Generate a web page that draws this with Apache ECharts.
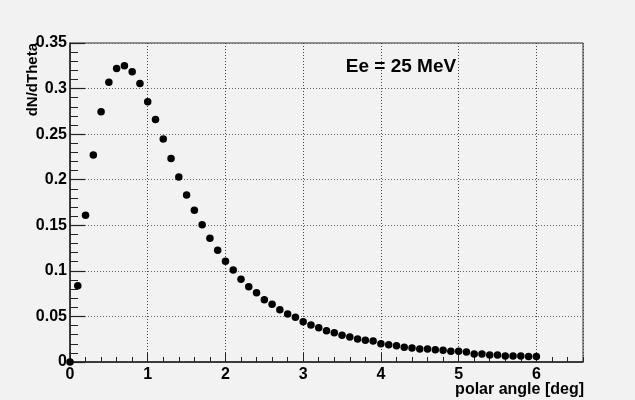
<!DOCTYPE html>
<html>
<head>
<meta charset="utf-8">
<script src="https://cdn.jsdelivr.net/npm/echarts@6/dist/echarts.min.js"></script>
<style>
html,body{margin:0;padding:0;background:#f2f2f2;}
#chart{width:635px;height:400px;}
</style>
</head>
<body>
<div id="chart"></div>
<script>
// Data
var angles = [0.0,0.1,0.2,0.3,0.4,0.5,0.6,0.7,0.8,0.9,
              1.0,1.1,1.2,1.3,1.4,1.5,1.6,1.7,1.8,1.9,
              2.0,2.1,2.2,2.3,2.4,2.5,2.6,2.7,2.8,2.9,
              3.0,3.1,3.2,3.3,3.4,3.5,3.6,3.7,3.8,3.9,
              4.0,4.1,4.2,4.3,4.4,4.5,4.6,4.7,4.8,4.9,
              5.0,5.1,5.2,5.3,5.4,5.5,5.6,5.7,5.8,5.9,6.0];
var dNdTheta = [0.0,0.0837,0.161,0.227,0.2746,0.307,0.322,0.325,0.3185,0.3057,
                0.2856,0.2662,0.2446,0.2234,0.203,0.1832,0.1664,0.1506,0.1357,0.1225,
                0.1105,0.1009,0.0907,0.0826,0.076,0.0683,0.0633,0.0574,0.0527,0.049,
                0.0442,0.0406,0.0376,0.0343,0.0322,0.0293,0.0274,0.0252,0.0238,0.023,
                0.0201,0.019,0.0179,0.0161,0.0154,0.0143,0.0143,0.0135,0.0128,0.0117,
                0.0117,0.011,0.0088,0.0088,0.0077,0.0077,0.0066,0.0066,0.0066,0.0059,0.0059];
var xTicks = [0,1,2,3,4,5,6];
var yTicks = [0,0.05,0.1,0.15,0.2,0.25,0.3,0.35];
var xTitle = 'polar angle [deg]';
var yTitle = 'dN/dTheta';
var label = 'Ee = 25 MeV';

var points = angles.map(function(a,i){ return [a, dNdTheta[i]]; });
var FONT = 'Liberation Sans';

var chart = echarts.init(document.getElementById('chart'));
chart.setOption({
  backgroundColor: '#f2f2f2',
  animation: false,
  grid: {left:70, right:52, top:43, bottom:38, show:true, borderColor:'#333', borderWidth:1, backgroundColor:'transparent'},
  xAxis: [{
    type:'value', min:0, max:6.6, interval:1,
    axisLine:{show:true, onZero:false, lineStyle:{color:'#222', width:1.5}},
    axisTick:{show:true, inside:true, length:9, lineStyle:{color:'#222'}},
    minorTick:{show:false},
    splitLine:{show:true, lineStyle:{color:'#444', type:[1,2], width:1}},
    axisLabel:{show:true, margin:5, color:'#000', fontFamily:FONT, fontWeight:'bold', fontSize:16, showMaxLabel:false,
      formatter:function(v){ return xTicks.indexOf(Math.round(v*1000)/1000) >= 0 ? String(v) : ''; }}
  },{
    type:'value', min:0, max:6.6, interval:0.2, position:'bottom', gridIndex:0,
    axisLine:{show:false}, axisLabel:{show:false}, splitLine:{show:false},
    axisTick:{show:true, inside:true, length:5, lineStyle:{color:'#222'}}
  }],
  yAxis: {
    type:'value', min:0, max:0.35, interval:0.05,
    axisLine:{show:true, onZero:false, lineStyle:{color:'#222', width:1.5}},
    axisTick:{show:true, inside:true, length:15, lineStyle:{color:'#222', width:1.2}},
    minorTick:{show:true, splitNumber:5, length:8, lineStyle:{color:'#222'}},
    splitLine:{show:true, lineStyle:{color:'#666', type:[1,2], width:1}},
    axisLabel:{show:true, margin:3, color:'#000', fontFamily:FONT, fontWeight:'bold', fontSize:16,
      formatter:function(v){ var r = Math.round(v*100)/100; return yTicks.indexOf(r) >= 0 ? String(r) : ''; }}
  },
  graphic: [
    {type:'text', x:33, y:43, rotation:Math.PI/2, z:10,
     style:{text:yTitle, fill:'#000', font:'bold 15px "Liberation Sans"', textAlign:'right', textVerticalAlign:'middle'}},
    {type:'text', x:584, y:390, z:10,
     style:{text:xTitle, fill:'#000', font:'bold 16px "Liberation Sans"', textAlign:'right', textVerticalAlign:'middle'}},
    {type:'text', x:401, y:67, z:10,
     style:{text:label, fill:'#000', font:'bold 19px "Liberation Sans"', textAlign:'center', textVerticalAlign:'middle'}}
  ],
  series: [{
    type:'scatter', xAxisIndex:0, data:points, symbol:'circle', symbolSize:7.5,
    itemStyle:{color:'#000', opacity:1}, clip:false, z:5
  }]
});
</script>
</body>
</html>
